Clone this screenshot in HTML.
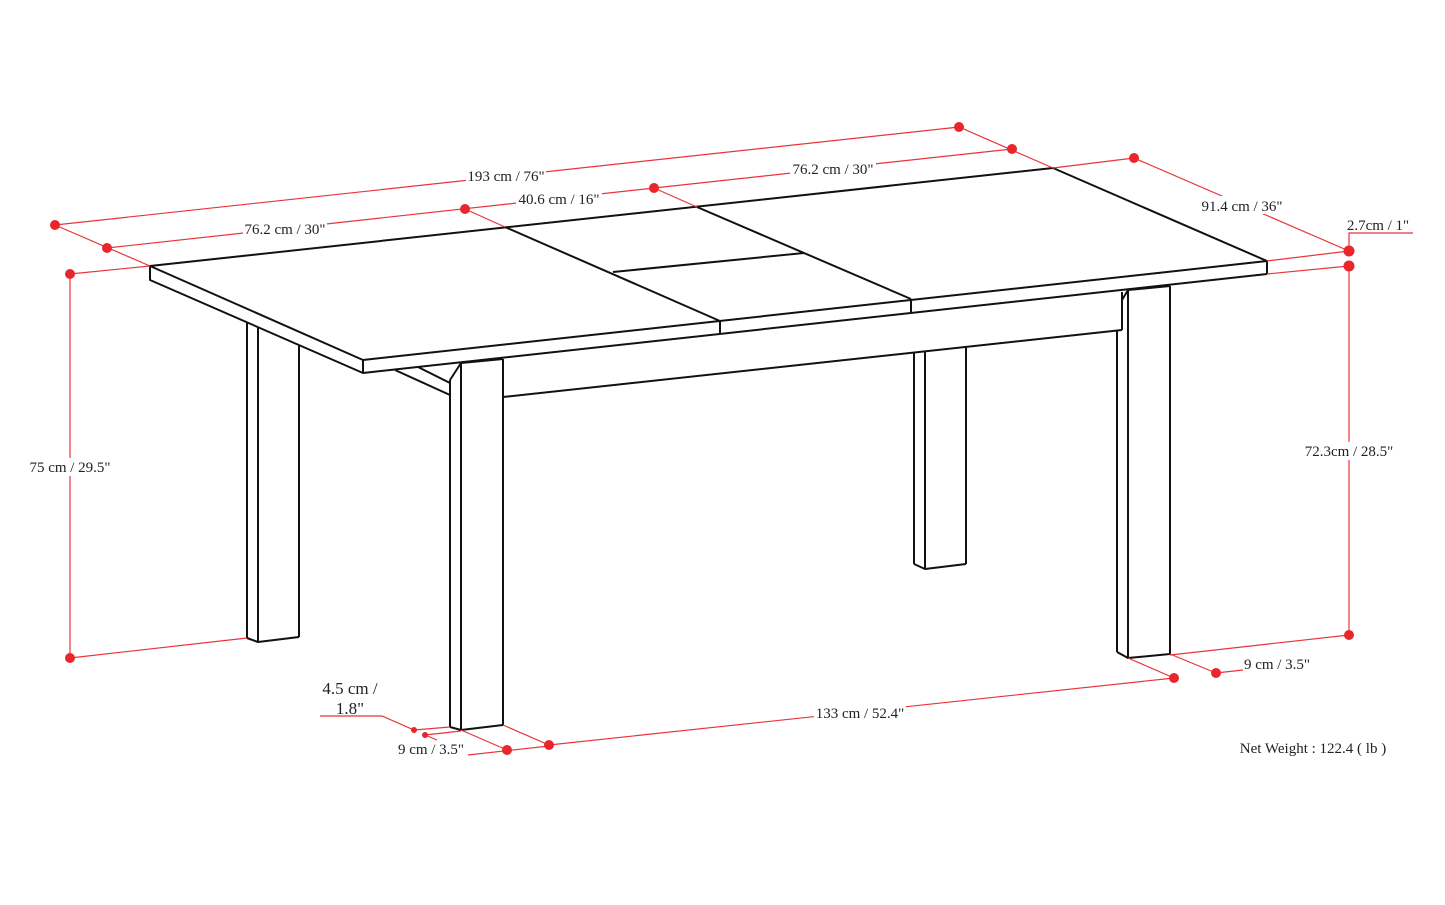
<!DOCTYPE html>
<html><head><meta charset="utf-8"><style>
html,body{margin:0;padding:0;background:#fff;}
svg{display:block;}
text{font-family:"Liberation Serif",serif;font-size:15px;fill:#222;}
</style></head><body>
<svg width="1445" height="905" viewBox="0 0 1445 905" xmlns="http://www.w3.org/2000/svg">
<g stroke="#111" stroke-width="2" fill="none" stroke-linejoin="round">
<polygon points="150,266 1053,168 1267,261 363,360" fill="#fff"/>
<line x1="505" y1="227" x2="720" y2="321"/>
<line x1="697" y1="207" x2="911" y2="299"/>
<line x1="613" y1="272" x2="804" y2="253"/>
<polyline points="150,266 150,280 363,373 363,360"/>
<line x1="363" y1="373" x2="1267" y2="274"/>
<line x1="1267" y1="261" x2="1267" y2="274"/>
<line x1="720" y1="321" x2="720" y2="334"/>
<line x1="911" y1="299" x2="911" y2="313"/>
<line x1="503" y1="397" x2="1122" y2="330"/>
<line x1="1122" y1="292" x2="1122" y2="330"/>
<polyline points="395,370 450,395"/>
<polyline points="418,367 450,383"/>
<line x1="247" y1="323" x2="247" y2="638"/>
<line x1="258" y1="328" x2="258" y2="642"/>
<line x1="299" y1="346" x2="299" y2="637"/>
<polyline points="247,638 258,642 299,637"/>
<line x1="450" y1="380" x2="450" y2="727"/>
<line x1="461" y1="363" x2="461" y2="730"/>
<line x1="503" y1="359" x2="503" y2="725"/>
<polyline points="450,727 461,730 503,725"/>
<polyline points="461,363 503,359"/>
<line x1="450" y1="380" x2="461" y2="363"/>
<line x1="914" y1="352" x2="914" y2="564"/>
<line x1="925" y1="351" x2="925" y2="569"/>
<line x1="966" y1="347" x2="966" y2="564"/>
<polyline points="914,564 925,569 966,564"/>
<line x1="1117" y1="330" x2="1117" y2="652"/>
<line x1="1128" y1="290" x2="1128" y2="658"/>
<line x1="1170" y1="286" x2="1170" y2="654"/>
<polyline points="1117,652 1128,658 1170,654"/>
<polyline points="1128,290 1170,286"/>
<line x1="1122" y1="300" x2="1128" y2="290"/>
</g>
<g stroke="#e8343a" stroke-width="1.2" fill="none">
<line x1="55" y1="225" x2="959" y2="127"/>
<polyline points="55,225 150,266"/>
<polyline points="959,127 1053,168"/>
<line x1="107" y1="248" x2="654" y2="188"/>
<line x1="465" y1="209" x2="505" y2="227"/>
<line x1="654" y1="188" x2="1012" y2="149"/>
<line x1="654" y1="188" x2="697" y2="207"/>
<line x1="1053" y1="168" x2="1134" y2="158"/>
<line x1="1134" y1="158" x2="1349" y2="251"/>
<line x1="1267" y1="261" x2="1349" y2="251"/>
<line x1="1267" y1="274" x2="1349" y2="266"/>
<polyline points="1349,251 1349,233 1413,233"/>
<line x1="1349" y1="266" x2="1349" y2="635"/>
<line x1="1170" y1="655" x2="1349" y2="635"/>
<line x1="70" y1="274" x2="150" y2="266"/>
<line x1="70" y1="274" x2="70" y2="658"/>
<line x1="70" y1="658" x2="247" y2="638"/>
<line x1="1128" y1="658" x2="1174" y2="678"/>
<line x1="1170" y1="654" x2="1216" y2="673"/>
<line x1="1216" y1="673" x2="1243" y2="670"/>
<line x1="549" y1="745" x2="1174" y2="678"/>
<line x1="503" y1="725" x2="549" y2="745"/>
<line x1="461" y1="730" x2="507" y2="750"/>
<line x1="468" y1="755" x2="549" y2="746"/>
<polyline points="320,716 382,716 414,730 450,727"/>
<line x1="425" y1="735" x2="461" y2="731"/>
<line x1="425" y1="735" x2="437" y2="740"/>
</g>
<g fill="#e8262c">
<circle cx="55" cy="225" r="5"/><circle cx="959" cy="127" r="5"/>
<circle cx="107" cy="248" r="5"/><circle cx="465" cy="209" r="5"/>
<circle cx="654" cy="188" r="5"/><circle cx="1012" cy="149" r="5"/>
<circle cx="1134" cy="158" r="5"/><circle cx="1349" cy="251" r="5.5"/>
<circle cx="1349" cy="266" r="5.5"/><circle cx="1349" cy="635" r="5"/>
<circle cx="70" cy="274" r="5"/><circle cx="70" cy="658" r="5"/>
<circle cx="1174" cy="678" r="5"/><circle cx="1216" cy="673" r="5"/>
<circle cx="549" cy="745" r="5"/><circle cx="507" cy="750" r="5"/>
<circle cx="414" cy="730" r="3"/><circle cx="425" cy="735" r="3"/>
</g>
<g>
<rect x="466" y="166" width="80" height="16" fill="#fff"/>
<text x="506" y="181" text-anchor="middle">193 cm / 76"</text>
<rect x="243" y="220" width="84" height="16" fill="#fff"/>
<text x="285" y="234" text-anchor="middle">76.2 cm / 30"</text>
<rect x="516" y="190" width="86" height="16" fill="#fff"/>
<text x="559" y="204" text-anchor="middle">40.6 cm / 16"</text>
<rect x="790" y="160" width="86" height="16" fill="#fff"/>
<text x="833" y="174" text-anchor="middle">76.2 cm / 30"</text>
<rect x="1198" y="196" width="88" height="18" fill="#fff"/>
<text x="1242" y="211" text-anchor="middle">91.4 cm / 36"</text>
<text x="1378" y="230" text-anchor="middle">2.7cm / 1"</text>
<rect x="1302" y="442" width="94" height="18" fill="#fff"/>
<text x="1349" y="456" text-anchor="middle">72.3cm / 28.5"</text>
<rect x="28" y="458" width="86" height="18" fill="#fff"/>
<text x="70" y="472" text-anchor="middle">75 cm / 29.5"</text>
<text x="1277" y="669" text-anchor="middle">9 cm / 3.5"</text>
<rect x="814" y="704" width="92" height="18" fill="#fff"/>
<text x="860" y="718" text-anchor="middle">133 cm / 52.4"</text>
<text x="431" y="754" text-anchor="middle">9 cm / 3.5"</text>
<text x="350" y="694" text-anchor="middle" style="font-size:17px">4.5 cm /</text>
<text x="350" y="714" text-anchor="middle" style="font-size:17px">1.8"</text>
<text x="1313" y="753" text-anchor="middle">Net Weight : 122.4 ( lb )</text>
</g>
</svg>
</body></html>
